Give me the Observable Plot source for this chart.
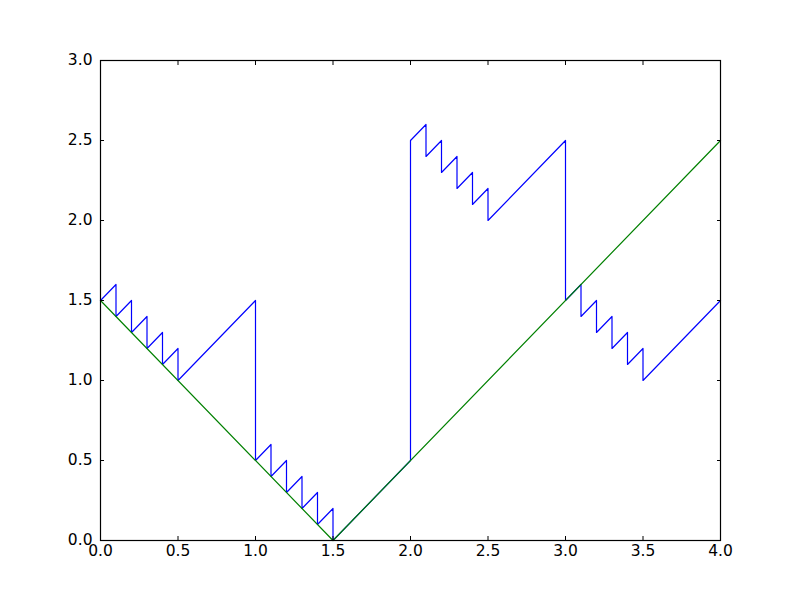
<!DOCTYPE html>
<html>
<head>
<meta charset="utf-8">
<script src="https://cdn.jsdelivr.net/npm/d3@7"></script>
<script src="https://cdn.jsdelivr.net/npm/@observablehq/plot@0.6"></script>
<style>
  html, body { margin: 0; padding: 0; background: #fff; }
  #chart { width: 800px; height: 600px; }
</style>
</head>
<body>
<div id="chart"></div>
<script>
const xTicks = [0, 0.5, 1, 1.5, 2, 2.5, 3, 3.5, 4];
const yTicks = [0, 0.5, 1, 1.5, 2, 2.5, 3];

// blue sawtooth path
const blueX = [0, 0.1, 0.1, 0.2, 0.2, 0.3, 0.3, 0.4, 0.4, 0.5, 0.5, 1.0, 1.0,
               1.1, 1.1, 1.2, 1.2, 1.3, 1.3, 1.4, 1.4, 1.5, 1.5, 2.0, 2.0,
               2.1, 2.1, 2.2, 2.2, 2.3, 2.3, 2.4, 2.4, 2.5, 2.5, 3.0, 3.0,
               3.1, 3.1, 3.2, 3.2, 3.3, 3.3, 3.4, 3.4, 3.5, 3.5, 4.0];
const blueY = [1.5, 1.6, 1.4, 1.5, 1.3, 1.4, 1.2, 1.3, 1.1, 1.2, 1.0, 1.5, 0.5,
               0.6, 0.4, 0.5, 0.3, 0.4, 0.2, 0.3, 0.1, 0.2, 0.0, 0.5, 2.5,
               2.6, 2.4, 2.5, 2.3, 2.4, 2.2, 2.3, 2.1, 2.2, 2.0, 2.5, 1.5,
               1.6, 1.4, 1.5, 1.3, 1.4, 1.2, 1.3, 1.1, 1.2, 1.0, 1.5];

// green V line
const greenX = [0, 1.5, 4];
const greenY = [1.5, 0, 2.5];

const blue = blueX.map((x, i) => ({x, y: blueY[i]}));
const green = greenX.map((x, i) => ({x, y: greenY[i]}));

const fmt = d => d.toFixed(1);

const chart = Plot.plot({
  width: 800,
  height: 600,
  marginLeft: 100,
  marginRight: 80,
  marginTop: 60,
  marginBottom: 60,
  style: {fontFamily: "DejaVu Sans", fontSize: "15.5px", color: "black", background: "white"},
  x: {domain: [0, 4]},
  y: {domain: [0, 3]},
  marks: [
    Plot.line(blue, {x: "x", y: "y", stroke: "#0000ff", strokeWidth: 1.2}),
    Plot.line(green, {x: "x", y: "y", stroke: "#008000", strokeWidth: 1.2}),
    Plot.frame({stroke: "black", strokeWidth: 1.2}),
    Plot.axisX(xTicks, {anchor: "bottom", tickSize: -4, tickPadding: 8, tickFormat: fmt, label: null, strokeOpacity: 1}),
    Plot.axisX(xTicks, {anchor: "top", tickSize: -4, tickFormat: () => "", label: null, strokeOpacity: 1}),
    Plot.axisY(yTicks, {anchor: "left", tickSize: -4, tickPadding: 12, tickFormat: fmt, label: null, strokeOpacity: 1}),
    Plot.axisY(yTicks, {anchor: "right", tickSize: -4, tickFormat: () => "", label: null, strokeOpacity: 1})
  ]
});
document.getElementById("chart").appendChild(chart);
</script>
</body>
</html>
